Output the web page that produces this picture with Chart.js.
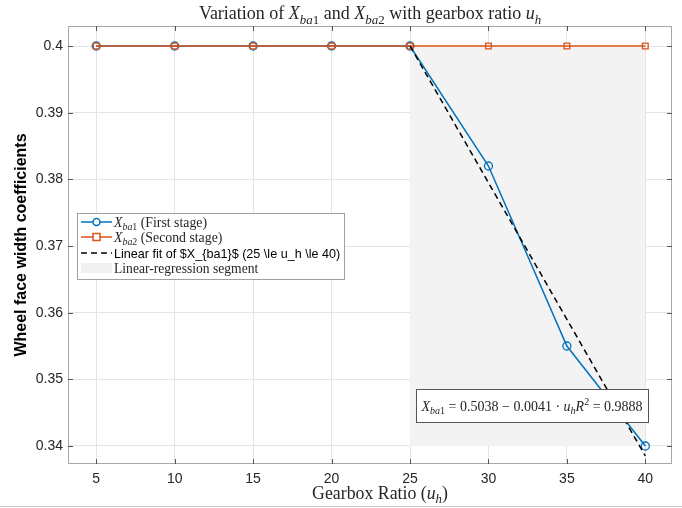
<!DOCTYPE html>
<html>
<head>
<meta charset="utf-8">
<script src="https://cdn.jsdelivr.net/npm/chart.js@4.4.1/dist/chart.umd.min.js"></script>
<style>
  html, body { margin: 0; padding: 0; background: #fff; }
  #wrap { width: 682px; height: 508px; }
</style>
</head>
<body>
<div id="wrap"><canvas id="chart"></canvas></div>
<script>
// gearbox ratio u_h and the two face width coefficients
const ratios = [5, 10, 15, 20, 25, 30, 35, 40];
const xba1 = [0.4, 0.4, 0.4, 0.4, 0.4, 0.382, 0.355, 0.34];
const xba2 = [0.4, 0.4, 0.4, 0.4, 0.4, 0.4, 0.4, 0.4];
// linear fit over 25..40 (end points)
const fitX = [25, 40];
const fitY = [0.4, 0.3385];
// shaded regression segment
const segX = [25, 40];
const segTop = [0.4, 0.4];
const segBottom = 0.34;
const xTicks = [5, 10, 15, 20, 25, 30, 35, 40];
const yTicks = [0.34, 0.35, 0.36, 0.37, 0.38, 0.39, 0.4];

const BLUE = '#0072BD';
const ORANGE = '#D95319';
const SERIF = '"Liberation Serif", "DejaVu Serif", serif';
const SANS = '"Liberation Sans", Arial, sans-serif';

const pts = (xs, ys) => xs.map((x, i) => ({ x: x, y: ys[i] }));

// draws text made of parts; p.i italic, p.sub / p.sup small shifted text
function rich(ctx, parts, x, y, size, align, fam) {
  fam = fam || SERIF;
  const fontOf = (p) => {
    const s = (p.sub || p.sup) ? size * 0.72 : size;
    return (p.i ? 'italic ' : '') + s + 'px ' + fam;
  };
  let w = 0;
  parts.forEach(p => { ctx.font = fontOf(p); p.w = ctx.measureText(p.t).width; w += p.w; });
  let cx = align === 'center' ? x - w / 2 : x;
  ctx.textAlign = 'left';
  ctx.textBaseline = 'alphabetic';
  parts.forEach(p => {
    ctx.font = fontOf(p);
    let dy = 0;
    if (p.sub) dy = size * 0.25;
    if (p.sup) dy = -size * 0.4;
    ctx.fillText(p.t, cx, y + dy);
    cx += p.w;
  });
}

const decor = {
  id: 'decor',
  afterDraw(chart) {
    const ctx = chart.ctx;
    const a = chart.chartArea;
    const xs = chart.scales.x, ys = chart.scales.y;
    ctx.save();

    // box round the axes + inward ticks
    ctx.strokeStyle = '#a8a8a8';
    ctx.lineWidth = 1;
    ctx.strokeRect(a.left + 0.5, a.top + 0.5, a.width - 1, a.height - 1);
    ctx.strokeStyle = '#555';
    ctx.beginPath();
    xTicks.forEach(v => {
      const px = Math.round(xs.getPixelForValue(v)) + 0.5;
      ctx.moveTo(px, a.bottom); ctx.lineTo(px, a.bottom - 5);
      ctx.moveTo(px, a.top); ctx.lineTo(px, a.top + 5);
    });
    yTicks.forEach(v => {
      const py = Math.round(ys.getPixelForValue(v)) + 0.5;
      ctx.moveTo(a.left, py); ctx.lineTo(a.left + 5, py);
      ctx.moveTo(a.right, py); ctx.lineTo(a.right - 5, py);
    });
    ctx.stroke();

    ctx.fillStyle = '#262626';
    // title
    rich(ctx, [
      { t: 'Variation of ' }, { t: 'X', i: 1 }, { t: 'ba', i: 1, sub: 1 }, { t: '1', sub: 1 },
      { t: ' and ' }, { t: 'X', i: 1 }, { t: 'ba', i: 1, sub: 1 }, { t: '2', sub: 1 },
      { t: ' with gearbox ratio ' }, { t: 'u', i: 1 }, { t: 'h', i: 1, sub: 1 }
    ], (a.left + a.right) / 2, 19, 18, 'center');

    // x title
    rich(ctx, [
      { t: 'Gearbox Ratio (' }, { t: 'u', i: 1 }, { t: 'h', i: 1, sub: 1 }, { t: ')' }
    ], (a.left + a.right) / 2 + 10, 499, 17.8, 'center');

    // y title
    ctx.save();
    ctx.translate(22, (a.top + a.bottom) / 2);
    ctx.rotate(-Math.PI / 2);
    ctx.font = 'bold 16px ' + SANS;
    ctx.textAlign = 'center';
    ctx.textBaseline = 'middle';
    ctx.fillStyle = '#000';
    ctx.fillText('Wheel face width coefficients', 0, 0);
    ctx.restore();

    // legend
    const lx = 77, ly = 213, lw = 267, lh = 66;
    ctx.fillStyle = '#fff';
    ctx.fillRect(lx, ly, lw, lh);
    ctx.strokeStyle = '#a0a0a0';
    ctx.strokeRect(lx + 0.5, ly + 0.5, lw, lh);
    const rows = [ly + 9, ly + 24, ly + 40, ly + 55];
    const sx0 = lx + 4, sx1 = lx + 35, tx = lx + 37;
    ctx.lineWidth = 1.5;
    // row 1
    ctx.strokeStyle = BLUE;
    ctx.beginPath(); ctx.moveTo(sx0, rows[0]); ctx.lineTo(sx1, rows[0]); ctx.stroke();
    ctx.fillStyle = '#fff';
    ctx.beginPath(); ctx.arc((sx0 + sx1) / 2, rows[0], 3.5, 0, Math.PI * 2); ctx.fill(); ctx.stroke();
    // row 2
    ctx.strokeStyle = ORANGE;
    ctx.beginPath(); ctx.moveTo(sx0, rows[1]); ctx.lineTo(sx1, rows[1]); ctx.stroke();
    ctx.fillRect((sx0 + sx1) / 2 - 3.5, rows[1] - 3.5, 7, 7);
    ctx.strokeRect((sx0 + sx1) / 2 - 3.5, rows[1] - 3.5, 7, 7);
    // row 3
    ctx.strokeStyle = '#000';
    ctx.setLineDash([6, 4]);
    ctx.beginPath(); ctx.moveTo(sx0, rows[2]); ctx.lineTo(sx1, rows[2]); ctx.stroke();
    ctx.setLineDash([]);
    // row 4
    ctx.fillStyle = '#f0f0f0';
    ctx.fillRect(sx0, rows[3] - 5, sx1 - sx0, 10);

    ctx.fillStyle = '#262626';
    rich(ctx, [{ t: 'X', i: 1 }, { t: 'ba', i: 1, sub: 1 }, { t: '1', sub: 1 }, { t: ' (First stage)' }], tx, rows[0] + 4.5, 13.8, 'left');
    rich(ctx, [{ t: 'X', i: 1 }, { t: 'ba', i: 1, sub: 1 }, { t: '2', sub: 1 }, { t: ' (Second stage)' }], tx, rows[1] + 4.5, 13.8, 'left');
    ctx.fillStyle = '#000';
    rich(ctx, [{ t: 'Linear fit of $X_{ba1}$ (25 \\le u_h \\le 40)' }], tx, rows[2] + 4.5, 12.6, 'left', SANS);
    ctx.fillStyle = '#262626';
    rich(ctx, [{ t: 'Linear-regression segment' }], tx, rows[3] + 4.5, 13.6, 'left');

    // fit equation box
    const bx = a.right - 256, by = 389, bw = 232, bh = 33;
    ctx.fillStyle = '#fff';
    ctx.fillRect(bx, by, bw, bh);
    ctx.strokeStyle = '#555';
    ctx.lineWidth = 1;
    ctx.strokeRect(bx + 0.5, by + 0.5, bw, bh);
    ctx.fillStyle = '#262626';
    rich(ctx, [
      { t: 'X', i: 1 }, { t: 'ba', i: 1, sub: 1 }, { t: '1', sub: 1 },
      { t: ' = 0.5038 \u2212 0.0041 \u00b7 ' }, { t: 'u', i: 1 }, { t: 'h', i: 1, sub: 1 },
      { t: 'R', i: 1 }, { t: '2', sup: 1 }, { t: ' = 0.9888' }
    ], bx + bw / 2, by + bh / 2 + 5, 14, 'center');

    // screenshot edge line at the bottom
    ctx.strokeStyle = '#c8c8c8';
    ctx.beginPath(); ctx.moveTo(0, 506.5); ctx.lineTo(682, 506.5); ctx.stroke();
    ctx.restore();
  }
};

new Chart(document.getElementById('chart'), {
  type: 'scatter',
  data: {
    datasets: [
      {
        label: 'Fit',
        data: pts(fitX, fitY),
        showLine: true,
        borderColor: '#000',
        borderWidth: 1.5,
        borderDash: [6, 4],
        pointRadius: 0,
        order: 1
      },
      {
        label: 'Xba2',
        data: pts(ratios, xba2),
        showLine: true,
        borderColor: ORANGE,
        backgroundColor: 'rgba(0,0,0,0)',
        borderWidth: 1.5,
        pointStyle: 'rect',
        pointRadius: 4,
        pointBorderWidth: 1.3,
        order: 2
      },
      {
        label: 'Xba1',
        data: pts(ratios, xba1),
        showLine: true,
        borderColor: BLUE,
        backgroundColor: 'rgba(0,0,0,0)',
        borderWidth: 1.5,
        pointStyle: 'circle',
        pointRadius: 4,
        pointBorderWidth: 1.3,
        order: 3
      },
      {
        label: 'Segment',
        data: pts(segX, segTop),
        showLine: true,
        borderWidth: 0,
        pointRadius: 0,
        backgroundColor: '#f3f3f3',
        fill: { value: segBottom },
        order: 4
      }
    ]
  },
  options: {
    responsive: true,
    maintainAspectRatio: false,
    animation: false,
    layout: { padding: { left: 0, right: 10, top: 26, bottom: 0 } },
    plugins: {
      legend: { display: false },
      tooltip: { enabled: false },
      filler: { propagate: false }
    },
    scales: {
      x: {
        type: 'linear',
        min: 3.2,
        max: 41.7,
        afterBuildTicks: s => { s.ticks = xTicks.map(v => ({ value: v })); },
        afterFit: s => { s.height = 44; },
        grid: { color: '#e4e4e4', drawTicks: false },
        border: { display: false },
        ticks: { color: '#262626', font: { family: SANS, size: 14 }, padding: 7 }
      },
      y: {
        min: 0.3373,
        max: 0.403,
        afterBuildTicks: s => { s.ticks = yTicks.map(v => ({ value: v })); },
        afterFit: s => { s.width = 68; },
        grid: { color: '#e4e4e4', drawTicks: false },
        border: { display: false },
        ticks: {
          color: '#262626',
          font: { family: SANS, size: 14 },
          padding: 5,
          callback: v => String(+v.toFixed(2))
        }
      }
    }
  },
  plugins: [decor]
});
</script>
</body>
</html>
